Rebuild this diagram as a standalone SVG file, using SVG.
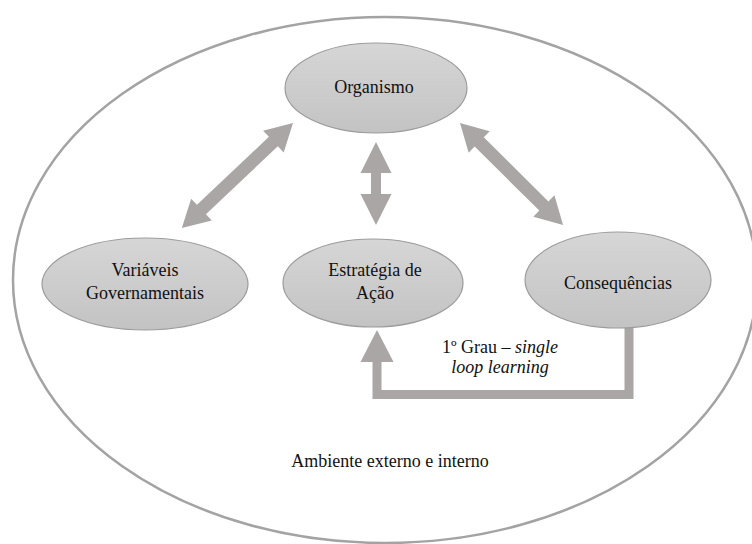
<svg xmlns="http://www.w3.org/2000/svg" width="752" height="544" viewBox="0 0 752 544">
  <defs>
    <linearGradient id="nodeFill" x1="0" y1="0" x2="0" y2="1">
      <stop offset="0" stop-color="#d6d6d6"/>
      <stop offset="1" stop-color="#c3c3c3"/>
    </linearGradient>
  </defs>
  <style>
    .env { fill: #ffffff; stroke: #a3a3a3; stroke-width: 2.5; }
    .node { fill: url(#nodeFill); stroke: #9c9c9c; stroke-width: 1.2; }
    .lbl { font-family: "Liberation Serif", "Times New Roman", serif; font-size: 18px; fill: #111111; text-anchor: middle; }
    .arrow { fill: #aaa6a5; stroke: none; }
    .loop { fill: none; stroke: #aaa6a5; stroke-width: 9; stroke-linejoin: miter; }
  </style>

  <rect width="752" height="544" fill="#ffffff"/>

  <!-- surrounding environment -->
  <g id="ambiente">
    <ellipse class="env" cx="385" cy="280" rx="372" ry="263"/>
    <text class="lbl" x="390" y="467">Ambiente externo e interno</text>
  </g>

  <!-- connectors -->
  <g id="connectors">
    <!-- Organismo <-> Variáveis Governamentais -->
    <polygon class="arrow" transform="translate(293,123) rotate(136.6)"
      points="0,0 27,-15 27,-6.5 126,-6.5 126,-15 153,0 126,15 126,6.5 27,6.5 27,15"/>
    <!-- Organismo <-> Estratégia de Ação -->
    <polygon class="arrow" transform="translate(376,142) rotate(90)"
      points="0,0 31,-15.5 31,-5 52,-5 52,-15.5 83,0 52,15.5 52,5 31,5 31,15.5"/>
    <!-- Organismo <-> Consequências -->
    <polygon class="arrow" transform="translate(460,123) rotate(44.7)"
      points="0,0 27,-15 27,-6.5 118,-6.5 118,-15 145,0 118,15 118,6.5 27,6.5 27,15"/>
    <!-- single loop feedback: Consequências -> Estratégia de Ação -->
    <path class="loop" d="M629,326 V394.5 H377 V360"/>
    <polygon class="arrow" points="377,330 393.5,362 360.5,362"/>
    <text class="lbl" x="500" y="353">1º Grau – <tspan font-style="italic">single</tspan></text>
    <text class="lbl" x="500" y="373" font-style="italic">loop learning</text>
  </g>

  <g id="organismo">
    <ellipse class="node" cx="376" cy="88" rx="91" ry="45"/>
    <text class="lbl" x="374" y="93">Organismo</text>
  </g>

  <g id="variaveis">
    <ellipse class="node" cx="145" cy="284" rx="103" ry="46"/>
    <text class="lbl" x="145" y="276">Variáveis</text>
    <text class="lbl" x="145" y="299">Governamentais</text>
  </g>

  <g id="estrategia">
    <ellipse class="node" cx="373" cy="283" rx="90" ry="44"/>
    <text class="lbl" x="375" y="276">Estratégia de</text>
    <text class="lbl" x="375" y="299">Ação</text>
  </g>

  <g id="consequencias">
    <ellipse class="node" cx="618" cy="280" rx="93" ry="48"/>
    <text class="lbl" x="618" y="289">Consequências</text>
  </g>
</svg>
